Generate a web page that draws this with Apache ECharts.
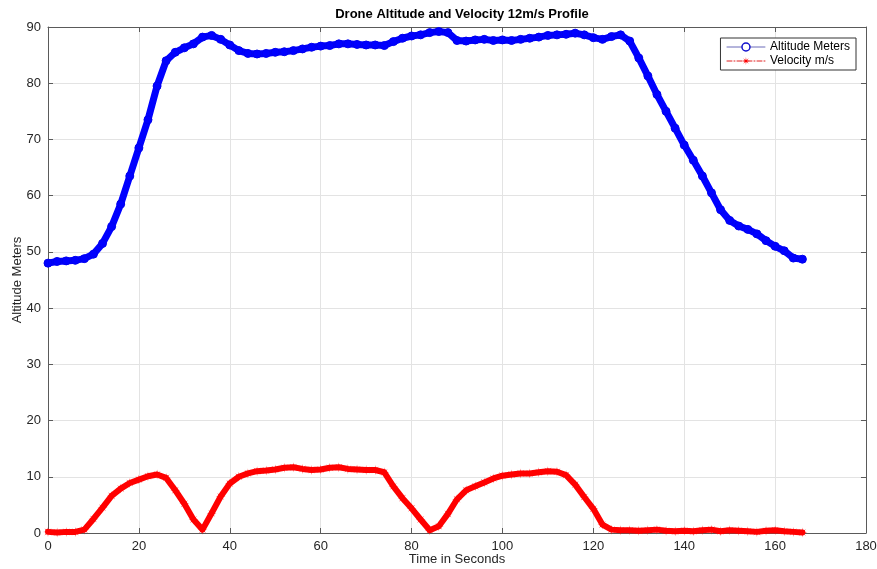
<!DOCTYPE html>
<html>
<head>
<meta charset="utf-8">
<script src="https://cdn.jsdelivr.net/npm/echarts@6/dist/echarts.min.js"></script>
<style>
  html, body { margin: 0; padding: 0; background: #fff; }
  #chart { width: 877px; height: 569px; }
</style>
</head>
<body>
<div id="chart"></div>
<script>
// Flight log, sampled every 2 seconds
const timeSeconds = [
  0, 2, 4, 6, 8, 10, 12, 14, 16, 18, 20, 22, 24, 26, 28, 30, 32, 34, 36, 38,
  40, 42, 44, 46, 48, 50, 52, 54, 56, 58, 60, 62, 64, 66, 68, 70, 72, 74, 76, 78,
  80, 82, 84, 86, 88, 90, 92, 94, 96, 98, 100, 102, 104, 106, 108, 110, 112, 114, 116, 118,
  120, 122, 124, 126, 128, 130, 132, 134, 136, 138, 140, 142, 144, 146, 148, 150, 152, 154, 156, 158,
  160, 162, 164, 166
];

const altitudeMeters = [
  48.0, 48.3, 48.4, 48.5, 48.8, 49.6, 51.5, 54.5, 58.5, 63.5, 68.5, 73.5, 79.5, 84.0, 85.5, 86.3, 87.0, 88.2, 88.5, 87.8,
  86.8, 85.8, 85.3, 85.2, 85.3, 85.5, 85.6, 85.8, 86.1, 86.4, 86.6, 86.7, 87.0, 87.0, 86.9, 86.8, 86.8, 86.7, 87.4, 88.0,
  88.4, 88.6, 89.0, 89.2, 89.0, 87.6, 87.5, 87.7, 87.8, 87.6, 87.7, 87.6, 87.8, 88.0, 88.2, 88.5, 88.6, 88.7, 88.9, 88.6,
  88.1, 87.8, 88.3, 88.6, 87.5, 84.5, 81.3, 78.0, 75.0, 72.0, 69.0, 66.3, 63.5, 60.5, 57.5, 55.6, 54.6, 54.0, 53.2, 52.0,
  51.0, 50.2, 48.9, 48.7
];

const velocityMps = [
  0.2, 0.1, 0.2, 0.2, 0.6, 2.5, 4.5, 6.6, 7.9, 8.9, 9.5, 10.1, 10.4, 9.8, 7.6, 5.2, 2.4, 0.6, 3.5, 6.5,
  8.8, 10.0, 10.6, 11.0, 11.1, 11.3, 11.6, 11.7, 11.4, 11.2, 11.3, 11.6, 11.7, 11.4, 11.3, 11.2, 11.2, 10.8, 8.3, 6.2,
  4.4, 2.4, 0.5, 1.2, 3.4, 6.0, 7.6, 8.3, 9.0, 9.7, 10.2, 10.4, 10.6, 10.6, 10.8, 11.0, 10.9, 10.3, 8.6, 6.4,
  4.3, 1.5, 0.6, 0.5, 0.5, 0.4, 0.5, 0.6, 0.4, 0.3, 0.4, 0.3, 0.5, 0.6, 0.3, 0.5, 0.4, 0.3, 0.2, 0.4,
  0.5, 0.3, 0.2, 0.1
];

const xTicks = { min: 0, max: 180, step: 20 };
const yTicks = { min: 0, max: 90, step: 10 };

const FONT = '"Liberation Sans", Arial, Helvetica, sans-serif';
const AXIS_COLOR = '#5a5a5a';
const TEXT_COLOR = '#262626';
const GRID_COLOR = '#e3e3e3';

// eight-armed asterisk marker
const ASTERISK = 'path://M10,0L10.96,7.69L17.07,2.93L12.31,9.04L20,10L12.31,10.96L17.07,17.07L10.96,12.31L10,20L9.04,12.31L2.93,17.07L7.69,10.96L0,10L7.69,9.04L2.93,2.93L9.04,7.69Z';

const pairs = (xs, ys) => xs.map((x, i) => [x, ys[i]]);

const chart = echarts.init(document.getElementById('chart'), null, { renderer: 'canvas' });

function boxAxis(base, position, showLabels) {
  return Object.assign({
    type: 'value',
    position: position,
    axisLine: { show: true, onZero: false, lineStyle: { color: AXIS_COLOR, width: 1 } },
    axisTick: { show: true, inside: true, length: 5, lineStyle: { color: AXIS_COLOR } },
    axisLabel: { show: showLabels, color: TEXT_COLOR, fontFamily: FONT, fontSize: 13, margin: 7 },
    splitLine: { show: showLabels, lineStyle: { color: GRID_COLOR, width: 1 } }
  }, base);
}

chart.setOption({
  animation: false,
  backgroundColor: '#ffffff',
  title: {
    text: 'Drone Altitude and Velocity 12m/s Profile',
    left: 457,
    textAlign: 'center',
    top: 3,
    textStyle: { fontFamily: FONT, fontSize: 13, fontWeight: 'bold', color: '#000' }
  },
  grid: { left: 48, right: 11, top: 27, bottom: 36, containLabel: false, outerBoundsMode: 'none' },
  legend: {
    orient: 'vertical',
    right: 21,
    top: 38,
    backgroundColor: '#fff',
    borderColor: '#333',
    borderWidth: 1,
    borderRadius: 0,
    padding: [3, 6, 3, 6],
    itemGap: 2,
    itemWidth: 38,
    itemHeight: 10,
    textStyle: { fontFamily: FONT, fontSize: 12, color: '#000' },
    data: [
      {
        name: 'Altitude Meters',
        itemStyle: { color: '#ffffff', borderColor: '#1010cc', borderWidth: 1.5 },
        lineStyle: { color: '#6a6ab8', width: 1, type: 'solid' }
      },
      {
        name: 'Velocity m/s',
        itemStyle: { color: '#ff0000', borderWidth: 0 },
        lineStyle: { color: '#e02020', width: 1, type: [5, 2, 1, 2] }
      }
    ]
  },
  xAxis: [
    boxAxis({
      min: xTicks.min, max: xTicks.max, interval: xTicks.step,
      name: 'Time in Seconds',
      nameLocation: 'middle',
      nameGap: 20,
      nameMoveOverlap: false,
      nameTextStyle: { fontFamily: FONT, fontSize: 13, color: TEXT_COLOR }
    }, 'bottom', true),
    boxAxis({ min: xTicks.min, max: xTicks.max, interval: xTicks.step }, 'top', false)
  ],
  yAxis: [
    boxAxis({
      min: yTicks.min, max: yTicks.max, interval: yTicks.step,
      name: 'Altitude Meters',
      nameLocation: 'middle',
      nameGap: 24,
      nameMoveOverlap: false,
      nameTextStyle: { fontFamily: FONT, fontSize: 13, color: TEXT_COLOR }
    }, 'left', true),
    boxAxis({ min: yTicks.min, max: yTicks.max, interval: yTicks.step }, 'right', false)
  ],
  series: [
    {
      name: 'Altitude Meters',
      type: 'line',
      xAxisIndex: 0,
      yAxisIndex: 0,
      data: pairs(timeSeconds, altitudeMeters),
      showAllSymbol: true,
      symbol: 'circle',
      symbolSize: 8,
      itemStyle: { color: '#0000ff', borderColor: '#0000ee', borderWidth: 1 },
      lineStyle: { color: '#0000ff', width: 7, cap: 'round', join: 'round' },
      smooth: false,
      z: 3
    },
    {
      name: 'Velocity m/s',
      type: 'line',
      xAxisIndex: 0,
      yAxisIndex: 0,
      data: pairs(timeSeconds, velocityMps),
      showAllSymbol: true,
      symbol: ASTERISK,
      symbolSize: 10,
      itemStyle: { color: '#ff0000', borderWidth: 0 },
      lineStyle: { color: '#ff0000', width: 6, cap: 'round', join: 'round' },
      z: 3
    }
  ]
});
</script>
</body>
</html>
